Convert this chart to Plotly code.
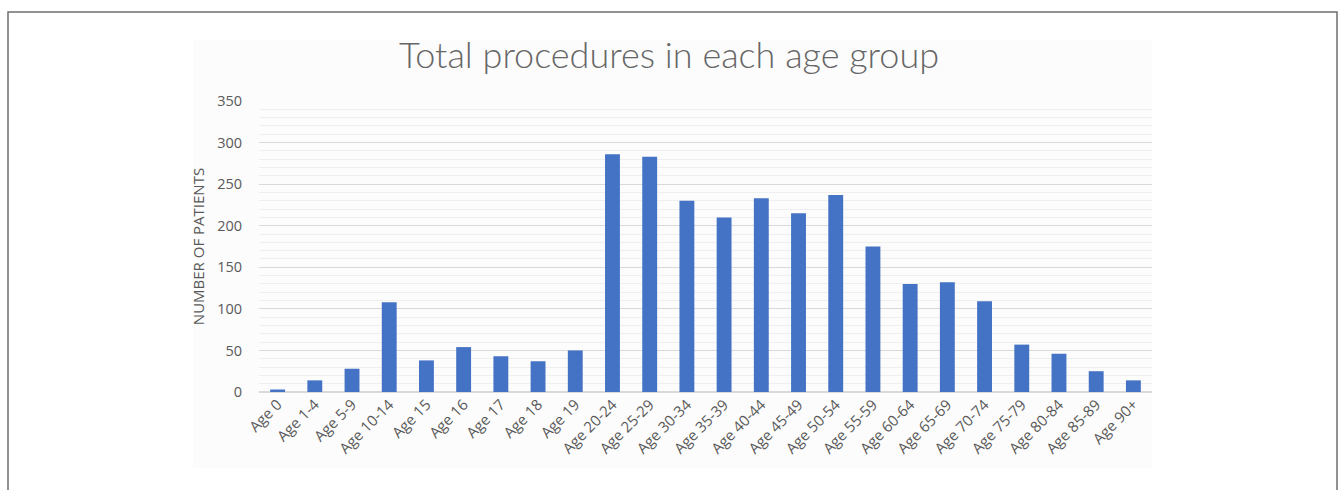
import plotly.graph_objects as go

categories = ["Age 0", "Age 1-4", "Age 5-9", "Age 10-14", "Age 15", "Age 16", "Age 17", "Age 18",
              "Age 19", "Age 20-24", "Age 25-29", "Age 30-34", "Age 35-39", "Age 40-44", "Age 45-49",
              "Age 50-54", "Age 55-59", "Age 60-64", "Age 65-69", "Age 70-74", "Age 75-79",
              "Age 80-84", "Age 85-89", "Age 90+"]
patients = [3, 14, 28, 108, 38, 54, 43, 37, 50, 286, 283, 230, 210, 233, 215, 237, 175, 130, 132,
            109, 57, 46, 25, 14]
y_ticks = [0, 50, 100, 150, 200, 250, 300, 350]

W, H = 1341, 490
L, R, T, B = 259, 1341 - 1152, 101, 490 - 392
pw, ph = W - L - R, H - T - B

def px(x):
    return (x - L) / pw

def py(y):
    return (H - B - y) / ph

FONT = "Open Sans"
GRAY = "#595959"

fig = go.Figure(go.Bar(x=categories, y=patients, marker=dict(color="#4472c4", line=dict(width=0)),
                       width=0.4))

fig.update_layout(
    width=W, height=H,
    margin=dict(l=L, r=R, t=T, b=B, pad=0),
    paper_bgcolor="white", plot_bgcolor="rgba(0,0,0,0)",
    showlegend=False,
    font=dict(family=FONT, color=GRAY),
    title=dict(text="Total procedures in each age group", x=px(669), xref="paper", xanchor="center",
               y=1 - 55 / H, yanchor="middle",
               font=dict(size=36, color="#666666", family="Lato", weight=300)),
    xaxis=dict(tickangle=-45, tickfont=dict(size=15, color=GRAY), showgrid=False, showline=False,
               ticks="", zeroline=False, range=[-0.5, len(categories) - 0.5]),
    yaxis=dict(range=[0, 350], tickvals=y_ticks, tickfont=dict(size=14.5, color=GRAY),
               gridcolor="#d9d9d9", gridwidth=1, zeroline=True, zerolinecolor="#d9d9d9",
               showline=False, ticks="", ticklabelstandoff=16,
               minor=dict(dtick=10, showgrid=True, gridcolor="#efefef", gridwidth=1),
               title=dict(text="NUMBER OF PATIENTS", font=dict(size=15, color=GRAY), standoff=8)),
    shapes=[
        dict(type="rect", xref="paper", yref="paper", x0=px(193), x1=px(1152), y0=py(468), y1=py(40),
             fillcolor="#fcfcfc", line=dict(width=0), layer="below"),
        dict(type="rect", xref="paper", yref="paper", x0=px(8), x1=px(1337), y0=py(500), y1=py(12),
             fillcolor="rgba(0,0,0,0)", line=dict(color="#6f6f6f", width=1.5), layer="above"),
    ],
)

fig.write_html("out.html")
